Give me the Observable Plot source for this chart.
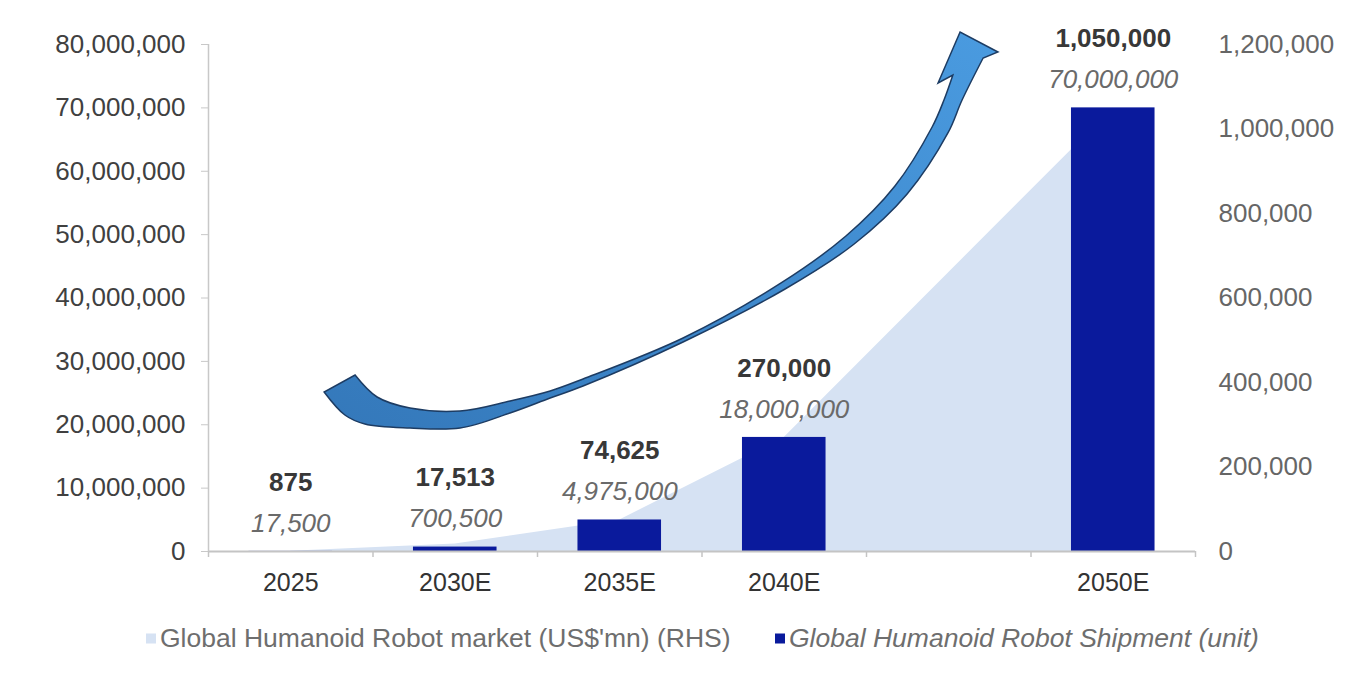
<!DOCTYPE html>
<html>
<head>
<meta charset="utf-8">
<script src="https://cdn.jsdelivr.net/npm/d3@7"></script>
<script src="https://cdn.jsdelivr.net/npm/@observablehq/plot@0.6"></script>
<style>
  body { margin: 0; background: #fff; font-family: "Liberation Sans", Arial, sans-serif; }
  #wrap { position: relative; width: 1362px; height: 692px; }
  #chart { position: absolute; left: 0; top: 0; }
  .item { position: absolute; top: 638px; transform: translateY(-50%); display: flex; align-items: center; gap: 4px; font-size: 26.5px; color: #6e6e6e; white-space: nowrap; }
  .sw { width: 10px; height: 10px; display: inline-block; }
</style>
</head>
<body>
<div id="wrap">
  <div id="chart"></div>
  <div class="item" style="left:146px"><span class="sw" style="background:#d6e2f3"></span><span>Global Humanoid Robot market (US$'mn) (RHS)</span></div>
  <div class="item" style="left:775px"><span class="sw" style="background:#0a1a9c"></span><span style="font-style:italic">Global Humanoid Robot Shipment (unit)</span></div>
</div>
<script>
// ---- data ----
const years = [2025, 2030, 2035, 2040, 2050];
const yearLabels = ["2025", "2030E", "2035E", "2040E", "2050E"];
const shipment = [17500, 700500, 4975000, 18000000, 70000000];   // units (LHS)
const market = [875, 17513, 74625, 270000, 1050000];            // US$ mn (RHS)
const leftTicks = [0, 10000000, 20000000, 30000000, 40000000, 50000000, 60000000, 70000000, 80000000];
const rightTicks = [0, 200000, 400000, 600000, 800000, 1000000, 1200000];
const slotEdges = [2022.5, 2027.5, 2032.5, 2037.5, 2042.5, 2047.5, 2052.5];

// decorative arrow outline in data units [year, millions of units]
const arrowLeftEdge = [[2026.97,27.77],[2027.64,24.30],[2028.64,22.56],[2030.16,22.09],[2031.68,23.67],[2032.90,25.25],[2033.90,27.14],[2036.94,33.61],[2039.92,42.29],[2041.89,49.70],[2043.38,57.59],[2044.51,66.90],[2044.87,71.16],[2045.14,75.11]];
const arrowHead = [[2044.69,73.85],[2045.36,81.89],[2046.51,78.74]];
const arrowRightEdge = [[2046.06,77.79],[2045.42,71.16],[2044.99,65.96],[2043.75,56.33],[2042.14,48.44],[2040.04,41.34],[2036.94,32.98],[2033.90,26.04],[2032.90,24.14],[2031.68,21.78],[2030.16,19.41],[2028.64,19.41],[2027.27,20.04],[2026.66,21.46],[2026.03,25.09]];

const SCALE = 80000000 / 1200000;
const rows = years.map((y, i) => ({ year: y, label: yearLabels[i], shipment: shipment[i], market: market[i], marketScaled: market[i] * SCALE }));
const fmt = d3.format(",");
const BAR_HALF = 1.27;

const chart = Plot.plot({
  width: 1362,
  height: 610,
  marginLeft: 208,
  marginRight: 167,
  marginTop: 44,
  marginBottom: 59,
  style: { fontFamily: "Liberation Sans, Arial, sans-serif", background: "transparent", overflow: "visible" },
  x: { type: "linear", domain: [2022.5, 2052.5], axis: null },
  y: { domain: [0, 80000000], axis: null },
  marks: [
    Plot.areaY(rows, { x: "year", y: "marketScaled", fill: "#d6e2f3", curve: "linear" }),
    Plot.rectY(rows, { x1: d => d.year - BAR_HALF, x2: d => d.year + BAR_HALF, y: "shipment", fill: "#0a1a9c" }),
    Plot.ruleY([0], { stroke: "#c4c4c4", strokeWidth: 2 }),
    Plot.ruleX([2022.5], { stroke: "#c8c8c8", strokeWidth: 1.5 }),
    Plot.axisY({ anchor: "left", label: null, ticks: leftTicks, tickSize: 7, tickPadding: 16, tickFormat: fmt, fontSize: 26, fill: "#404040", stroke: "#c8c8c8" }),
    Plot.axisY({ anchor: "right", label: null, ticks: rightTicks.map(v => v * SCALE), tickSize: 0, tickPadding: 23, tickFormat: v => fmt(Math.round(v / SCALE)), fontSize: 26, fill: "#666666" }),
    Plot.axisX({ label: null, ticks: slotEdges, tickSize: 6, tickFormat: () => "", stroke: "#c4c4c4", strokeWidth: 1.5 }),
    Plot.axisX({ label: null, ticks: years, tickSize: 0, tickPadding: 22, tickFormat: (d) => yearLabels[years.indexOf(d)], fontSize: 25, fill: "#333333" }),
    Plot.text(rows, { x: "year", y: "shipment", text: d => fmt(d.shipment), dy: -28, fontSize: 26, fontStyle: "italic", fill: "#6a6a6a" }),
    Plot.text(rows, { x: "year", y: "shipment", text: d => fmt(d.market), dy: -69, fontSize: 26, fontWeight: "bold", fill: "#383838" })
  ]
});
document.getElementById("chart").appendChild(chart);

// decorative arrow, positioned through the chart's scales
const sx = chart.scale("x"), sy = chart.scale("y");
const toPx = p => [sx.apply(p[0]), sy.apply(p[1] * 1e6)];
const line = d3.line().curve(d3.curveCatmullRom.alpha(0.5));
const leftPath = line(arrowLeftEdge.map(toPx));
const headPts = arrowHead.map(toPx);
const rightPath = line(arrowRightEdge.map(toPx)).replace(/^M/, "L");
const d = leftPath + headPts.map(p => "L" + p[0] + "," + p[1]).join("") + rightPath + "Z";
const svg = d3.select(chart);
const defs = svg.append("defs");
const grad = defs.append("linearGradient").attr("id", "arrowGrad").attr("x1", "0").attr("y1", "1").attr("x2", "1").attr("y2", "0");
grad.append("stop").attr("offset", "0%").attr("stop-color", "#3478ba");
grad.append("stop").attr("offset", "100%").attr("stop-color", "#4a9be0");
svg.append("path").attr("d", d).attr("fill", "url(#arrowGrad)").attr("stroke", "#1d3c63").attr("stroke-width", 1.5).attr("stroke-linejoin", "miter");
</script>
</body>
</html>
